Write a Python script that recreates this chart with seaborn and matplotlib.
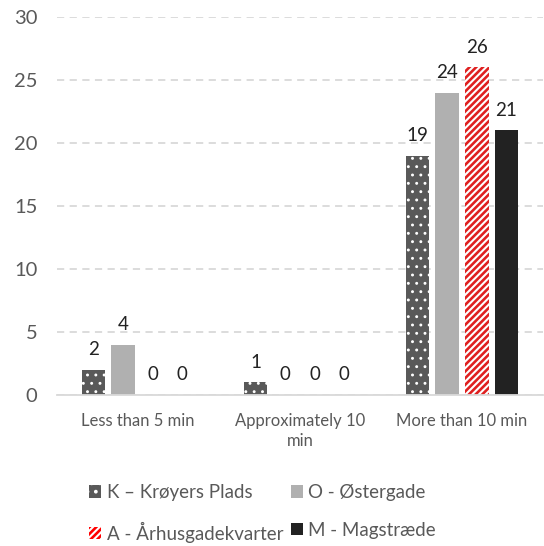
import matplotlib
matplotlib.use("Agg")
import matplotlib.pyplot as plt
import matplotlib.patches as mpatches
import seaborn as sns
import pandas as pd

categories = ["Less than 5 min", "Approximately 10\nmin", "More than 10 min"]
series = ["K – Krøyers Plads", "O - Østergade", "A - Århusgadekvarter", "M - Magstræde"]
kroyers = [2, 1, 19]
ostergade = [4, 0, 24]
aarhusgade = [0, 0, 26]
magstraede = [0, 0, 21]

rows = []
for name, vals in zip(series, [kroyers, ostergade, aarhusgade, magstraede]):
    for cat, v in zip(categories, vals):
        rows.append({"category": cat, "site": name, "count": v})
df = pd.DataFrame(rows)

sns.set_style("white")
plt.rcParams["font.family"] = ["Lato", "DejaVu Sans"]
plt.rcParams["hatch.linewidth"] = 1.5

face = {series[0]: "#595959", series[1]: "#B0B0B0", series[2]: "#FF0000", series[3]: "#222222"}
hatches = {series[0]: "..", series[1]: "", series[2]: "/////", series[3]: ""}
hatch_lw = {series[0]: 0.9, series[1]: 1.0, series[2]: 1.5, series[3]: 1.0}
text_col = "#595959"


def style_patch(p, name):
    p.set_hatch(hatches[name])
    p.set_edgecolor("white" if hatches[name] else face[name])
    p.set_linewidth(0)
    if hasattr(p, "set_hatch_linewidth"):
        p.set_hatch_linewidth(hatch_lw[name])


fig = plt.figure(figsize=(5.44, 5.46), dpi=100)
ax = fig.add_axes([57 / 544, 151 / 546, 486 / 544, 378 / 546])

sns.barplot(data=df, x="category", y="count", hue="site", hue_order=series,
            palette=face, width=0.73, gap=0.2, legend=False, ax=ax)

for container, name in zip(ax.containers, series):
    for bar in container:
        style_patch(bar, name)
    ax.bar_label(container, labels=[f"{v:g}" for v in container.datavalues],
                 padding=8.5, fontsize=13.5, color="#222222")

ax.set_xlim(-0.5, 2.5)
ax.set_ylim(0, 30)
ax.set_yticks(range(0, 31, 5))
ax.yaxis.grid(True, color="#D9D9D9", linestyle=(0, (4, 3)), linewidth=1.3)
ax.set_axisbelow(True)
for s in ["top", "right", "left"]:
    ax.spines[s].set_visible(False)
ax.spines["bottom"].set_color("#D9D9D9")
ax.spines["bottom"].set_linewidth(1.3)
ax.tick_params(axis="y", length=0, pad=14, labelsize=14.5, labelcolor=text_col)
ax.tick_params(axis="x", length=0, pad=13, labelsize=12, labelcolor=text_col)
for lbl in ax.get_xticklabels():
    lbl.set_linespacing(1.3)
ax.set_xlabel("")
ax.set_ylabel("")

handles = {}
for name in series:
    p = mpatches.Patch(facecolor=face[name])
    style_patch(p, name)
    handles[name] = p
# two columns, filled row by row: K, O / A, M
order = [series[0], series[2], series[1], series[3]]
fig.legend([handles[n] for n in order], order, loc="lower left",
           bbox_to_anchor=(72 / 544, -0.025),
           ncol=2, frameon=False, fontsize=13.5, labelcolor=text_col,
           handlelength=0.65, handleheight=0.65, handletextpad=0.3,
           columnspacing=0.4, labelspacing=1.1)

fig.savefig("out.png", dpi=100)
